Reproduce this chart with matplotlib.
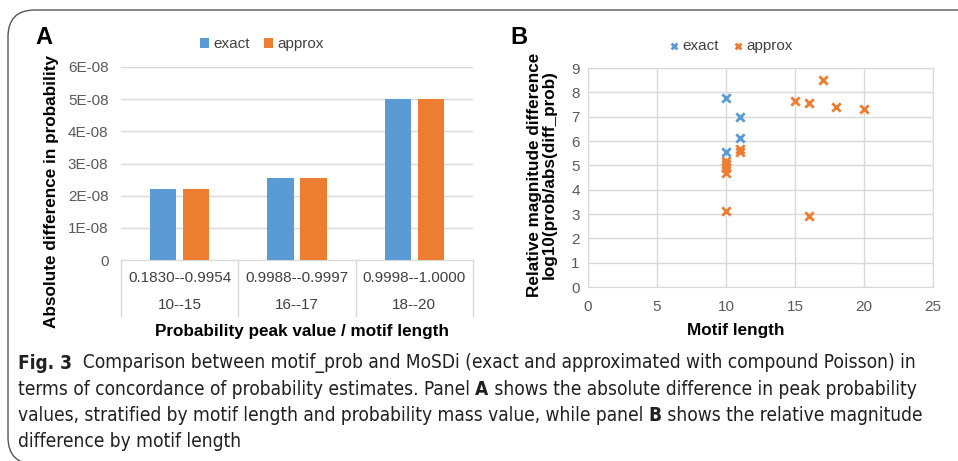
import matplotlib
matplotlib.use("Agg")
import matplotlib.pyplot as plt
from matplotlib.patches import FancyBboxPatch
from matplotlib.lines import Line2D
from matplotlib.ticker import FuncFormatter

W, H = 958, 461

# panel A
categories = ["0.1830--0.9954", "0.9988--0.9997", "0.9998--1.0000"]
lengths = ["10--15", "16--17", "18--20"]
exact_diff = [2.2e-08, 2.55e-08, 5.0e-08]
approx_diff = [2.2e-08, 2.55e-08, 5.0e-08]

# panel B
exact_len = [10, 10, 10, 11, 11]
exact_mag = [7.77, 5.55, 4.95, 6.97, 6.13]
approx_len = [10, 10, 10, 10, 10, 11, 11, 15, 16, 16, 17, 18, 20]
approx_mag = [5.18, 5.04, 4.88, 4.70, 3.13, 5.67, 5.56, 7.66, 7.58, 2.90, 8.50, 7.39, 7.31]

BLUE = "#5b9bd5"
ORANGE = "#ed7d31"
GRID = "#d9d9d9"
TICK = "#595959"

plt.rcParams["font.family"] = ["Liberation Sans", "DejaVu Sans"]


def fx(x):
    return x / W


def fy(y):
    return 1 - y / H


def axes_rect(x0, y0, x1, y1):
    return [fx(x0), fy(y1), fx(x1) - fx(x0), fy(y0) - fy(y1)]


fig = plt.figure(figsize=(W / 100, H / 100), dpi=100)

# rounded frame of the figure box (cut on the right and bottom)
frame = FancyBboxPatch((fx(8), fy(464)), fx(1000) - fx(8), fy(10) - fy(464),
                       boxstyle="round,pad=0,rounding_size=0.028",
                       transform=fig.transFigure, fill=False,
                       edgecolor="#555555", linewidth=1.0, clip_on=False,
                       mutation_aspect=W / H)
fig.patches.append(frame)

# ---------- panel A ----------
axA = fig.add_axes(axes_rect(121, 67, 473, 260))
pos = list(range(len(categories)))
axA.bar([p - 0.14 for p in pos], exact_diff, width=0.225, color=BLUE, zorder=3, label="exact")
axA.bar([p + 0.14 for p in pos], approx_diff, width=0.225, color=ORANGE, zorder=3, label="approx")
axA.set_xlim(-0.5, 2.5)
axA.set_ylim(0, 6e-08)
axA.set_yticks([i * 1e-08 for i in range(7)])
axA.yaxis.set_major_formatter(FuncFormatter(lambda v, _: "0" if v == 0 else f"{round(v * 1e8):d}E-08"))
axA.set_xticks([])
axA.grid(axis="y", color=GRID, linewidth=1, zorder=0)
for s in ["top", "right", "left"]:
    axA.spines[s].set_visible(False)
axA.spines["bottom"].set_color(GRID)
axA.tick_params(axis="y", length=0, labelsize=11, labelcolor=TICK, pad=9)

ax_h = 260 - 67
for p, c, l in zip(pos, categories, lengths):
    axA.text(p, -18 / ax_h, c, transform=axA.get_xaxis_transform(), ha="center", va="center",
             fontsize=11, color="#404040")
    axA.text(p, -45 / ax_h, l, transform=axA.get_xaxis_transform(), ha="center", va="center",
             fontsize=11, color="#404040")
for xb in [-0.5, 0.5, 1.5, 2.5]:
    axA.add_line(Line2D([xb, xb], [0, -56 / ax_h], transform=axA.get_xaxis_transform(),
                        color=GRID, linewidth=1, clip_on=False))

fig.text(fx(302), fy(331), "Probability peak value / motif length", ha="center", va="center",
         fontsize=12.3, fontweight="bold")
fig.text(fx(52), fy(192), "Absolute difference in probability", ha="center", va="center",
         rotation=90, fontsize=12.3, fontweight="bold")
fig.text(fx(35), fy(38), "A", ha="left", va="center", fontsize=17, fontweight="bold")

legA = axA.legend(loc="lower center", bbox_to_anchor=(fx(262), fy(59)), bbox_transform=fig.transFigure,
                  ncol=2, frameon=False, fontsize=11, handlelength=0.6, handleheight=0.6,
                  handletextpad=0.3, columnspacing=0.9, borderpad=0)
for t in legA.get_texts():
    t.set_color("#404040")

# ---------- panel B ----------
axB = fig.add_axes(axes_rect(588, 68, 933, 287))
axB.scatter(exact_len, exact_mag, marker="x", s=36, linewidths=2.0, color=BLUE, zorder=3, label="exact")
axB.scatter(approx_len, approx_mag, marker="x", s=36, linewidths=2.0, color=ORANGE, zorder=4, label="approx")
axB.set_xlim(0, 25)
axB.set_ylim(0, 9)
axB.set_xticks(range(0, 26, 5))
axB.set_yticks(range(0, 10))
axB.grid(True, color=GRID, linewidth=1, zorder=0)
for s in axB.spines.values():
    s.set_color(GRID)
axB.tick_params(length=0, labelsize=11, labelcolor=TICK)
axB.tick_params(axis="x", pad=9)
axB.tick_params(axis="y", pad=6)

fig.text(fx(736), fy(330), "Motif length", ha="center", va="center", fontsize=12.3, fontweight="bold")
fig.text(fx(542), fy(175), "Relative magnitude difference\nlog10(prob/abs(diff_prob)", ha="center",
         va="center", rotation=90, fontsize=12.3, fontweight="bold", linespacing=0.95)
fig.text(fx(510), fy(38), "B", ha="left", va="center", fontsize=17, fontweight="bold")

legB = axB.legend(loc="lower center", bbox_to_anchor=(fx(731), fy(61)), bbox_transform=fig.transFigure,
                  ncol=2, frameon=False, fontsize=11, handlelength=0.6, handletextpad=0.3,
                  columnspacing=0.9, borderpad=0, scatterpoints=1, markerscale=0.7)
for t in legB.get_texts():
    t.set_color("#404040")

# ---------- caption ----------
CAP_FONT = ["DejaVu Sans", "Liberation Sans"]
caption = [
    [("Fig. 3", "bold"), ("  Comparison between motif_prob and MoSDi (exact and approximated with compound Poisson) in", "normal")],
    [("terms of concordance of probability estimates. Panel ", "normal"), ("A", "bold"),
     (" shows the absolute difference in peak probability", "normal")],
    [("values, stratified by motif length and probability mass value, while panel ", "normal"), ("B", "bold"),
     (" shows the relative magnitude", "normal")],
    [("difference by motif length", "normal")],
]
line_y = [363, 389, 415, 441]

renderer = fig.canvas.get_renderer()
for segs, yy in zip(caption, line_y):
    x = 18.0
    for txt, wt in segs:
        t = fig.text(fx(x), fy(yy), txt, ha="left", va="center", fontsize=13.7, fontweight=wt,
                     family=CAP_FONT, fontstretch="condensed", color="#231f20")
        bb = t.get_window_extent(renderer)
        x += bb.width

fig.savefig("out.png", dpi=100)
